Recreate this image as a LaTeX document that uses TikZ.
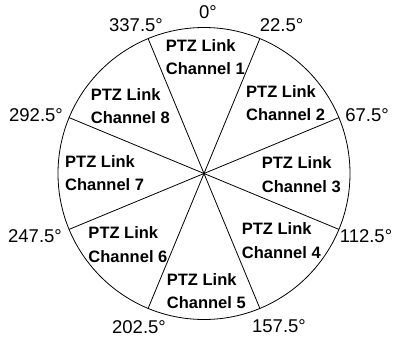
\documentclass[tikz,border=0pt]{standalone}
\usepackage{fontspec}
\setmainfont{Liberation Sans}
\usepackage{tikz}

\tikzset{
  angle label/.style={inner sep=0pt, font=\fontsize{18.5}{20}\selectfont},
  channel label/.style={inner sep=0pt, anchor=north west, align=left,
                        font=\fontsize{16.5}{23.3}\selectfont\bfseries}
}

\begin{document}
\begin{tikzpicture}[x=1pt,y=1pt]
    \useasboundingbox (-204,-169.5) rectangle (192,173.5);

    % Centre and outer circle
    \coordinate (O) at (0,0);
    \draw[line width=0.8pt] (O) circle (146pt);

    % Sector borders
    \draw[line width=0.8pt] (67.5:146) -- (247.5:146); % 22.5 / 202.5
    \draw[line width=0.8pt] (22.5:146) -- (202.5:146); % 67.5 / 247.5
    \draw[line width=0.8pt] (-22.5:146) -- (157.5:146); % 112.5 / 292.5
    \draw[line width=0.8pt] (-67.5:146) -- (112.5:146); % 157.5 / 337.5

    % Angle labels
    \node[angle label] (a0)   at (4,161.5)    {0°};
    \node[angle label] (a22)  at (77.5,148.5) {22.5°};
    \node[angle label] (a67)  at (163,58.5)   {67.5°};
    \node[angle label] (a112) at (162,-62.5)  {112.5°};
    \node[angle label] (a157) at (75,-152.5)  {157.5°};
    \node[angle label] (a202) at (-65,-153.5) {202.5°};
    \node[angle label] (a247) at (-169,-62.5) {247.5°};
    \node[angle label] (a292) at (-168,58.5)  {292.5°};
    \node[angle label] (a337) at (-68,148.5)  {337.5°};

    % Channel labels
    \node[channel label] (ch1) at (-38.3,134.2)  {PTZ Link\\Channel 1};
    \node[channel label] (ch2) at (42,88.5)      {PTZ Link\\Channel 2};
    \node[channel label] (ch3) at (57.7,16.8)    {PTZ Link\\Channel 3};
    \node[channel label] (ch4) at (37.7,-49.2)   {PTZ Link\\Channel 4};
    \node[channel label] (ch5) at (-37.3,-99.8)  {PTZ Link\\Channel 5};
    \node[channel label] (ch6) at (-115.7,-53.2) {PTZ Link\\Channel 6};
    \node[channel label] (ch7) at (-139,18.5)    {PTZ Link\\Channel 7};
    \node[channel label] (ch8) at (-113.3,85.2)  {PTZ Link\\Channel 8};

\end{tikzpicture}
\end{document}
